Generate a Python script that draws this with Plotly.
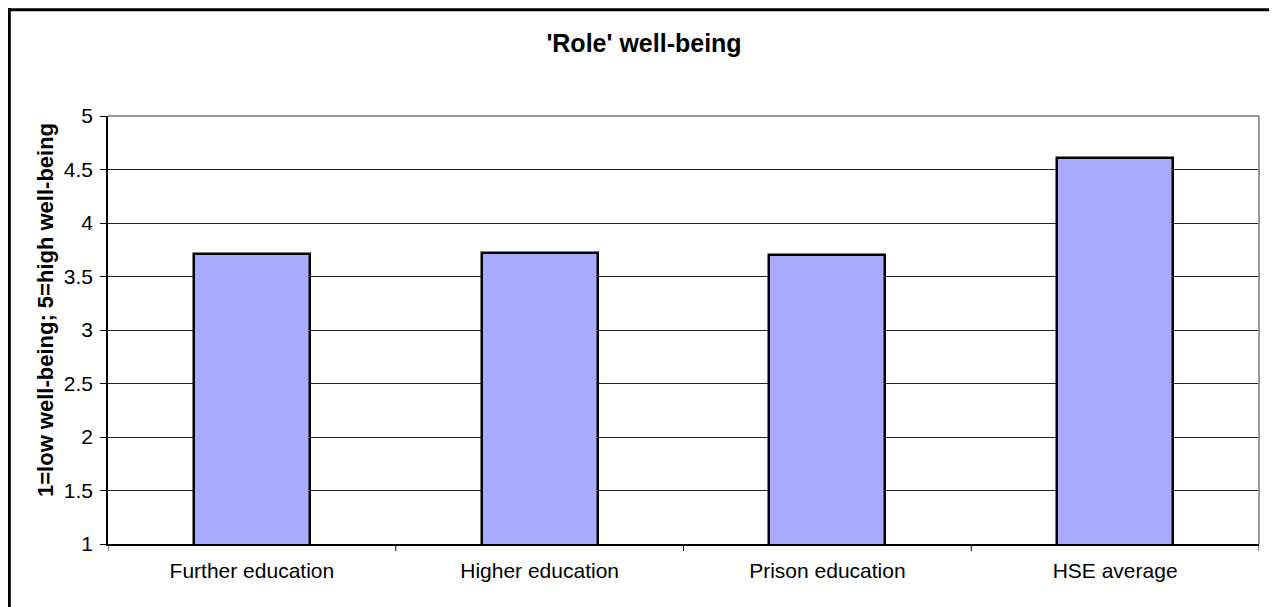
import plotly.graph_objects as go

categories = ["Further education", "Higher education", "Prison education", "HSE average"]
values = [3.71, 3.72, 3.70, 4.61]
y_ticks = [1, 1.5, 2, 2.5, 3, 3.5, 4, 4.5, 5]
y_tick_labels = ["1", "1.5", "2", "2.5", "3", "3.5", "4", "4.5", "5"]

OFF = 8  # page body margin
W, H = 1277 - OFF, 607 - OFF
# plot area in image pixels: x 108..1259, y 116..544
L, T = 108 - OFF, 116 - OFF
R = W - (1259 - OFF)
B = H - (544 - OFF)
pw, ph = W - L - R, H - T - B


def fx(px):  # image px -> paper x
    return (px - OFF - L) / pw


def fy(py):  # image px -> paper y
    return (H - B - (py - OFF)) / ph


font = "Liberation Sans, Arial, sans-serif"

fig = go.Figure()
fig.add_trace(go.Bar(
    x=categories, y=values, base=0,
    width=0.403,
    marker=dict(color="#AAAAFF", line=dict(color="black", width=2.5)),
    hoverinfo="x+y",
))

fig.update_layout(
    width=W, height=H,
    margin=dict(l=L, r=R, t=T, b=B, autoexpand=False),
    paper_bgcolor="white", plot_bgcolor="white",
    showlegend=False,
    bargap=0,
    title=dict(text="<b>'Role' well-being</b>", xref="paper", x=fx(644), xanchor="center",
               yref="container", y=1 - (43 - OFF) / H, yanchor="middle",
               font=dict(family=font, size=25, color="black")),
    font=dict(family=font, size=21, color="black"),
    xaxis=dict(
        showgrid=False, showline=True, linecolor="black", linewidth=1.5,
        ticks="", tickfont=dict(size=21), ticklabelstandoff=7,
        range=[-0.5, 3.5], fixedrange=True,
    ),
    yaxis=dict(
        range=[1, 5], tickvals=y_ticks, ticktext=y_tick_labels,
        showgrid=True, gridcolor="#222222", gridwidth=1,
        showline=True, linecolor="black", linewidth=1.5,
        ticks="outside", ticklen=6, tickcolor="black", tickwidth=1,
        tickfont=dict(size=21), ticklabelstandoff=3, zeroline=False,
        fixedrange=True,
    ),
    annotations=[dict(
        text="<b>1=low well-being; 5=high well-being</b>",
        xref="paper", yref="paper", x=fx(45), y=fy(310),
        xanchor="center", yanchor="middle", textangle=-90, showarrow=False,
        font=dict(family=font, size=22, color="black"),
    )],
)

shapes = []
# category boundary tick marks on the x axis
for i in range(len(categories) + 1):
    shapes.append(dict(type="line", xref="x", yref="paper",
                       x0=i - 0.5, x1=i - 0.5, y0=0, y1=-7 / ph,
                       line=dict(color="black", width=1)))
# grey plot-area border (top and right)
shapes.append(dict(type="line", xref="paper", yref="paper", x0=0, x1=1, y0=1, y1=1,
                   line=dict(color="#999999", width=2)))
shapes.append(dict(type="line", xref="paper", yref="paper", x0=1, x1=1, y0=0, y1=1,
                   line=dict(color="#999999", width=2)))
# outer chart border (left and top visible in the crop)
shapes.append(dict(type="line", xref="paper", yref="paper",
                   x0=fx(9.3), x1=fx(9.3), y0=fy(8), y1=fy(700),
                   line=dict(color="black", width=3)))
shapes.append(dict(type="line", xref="paper", yref="paper",
                   x0=fx(8), x1=fx(1400), y0=fy(9.8), y1=fy(9.8),
                   line=dict(color="black", width=3)))
fig.update_layout(shapes=shapes)

fig.write_html("out.html")
